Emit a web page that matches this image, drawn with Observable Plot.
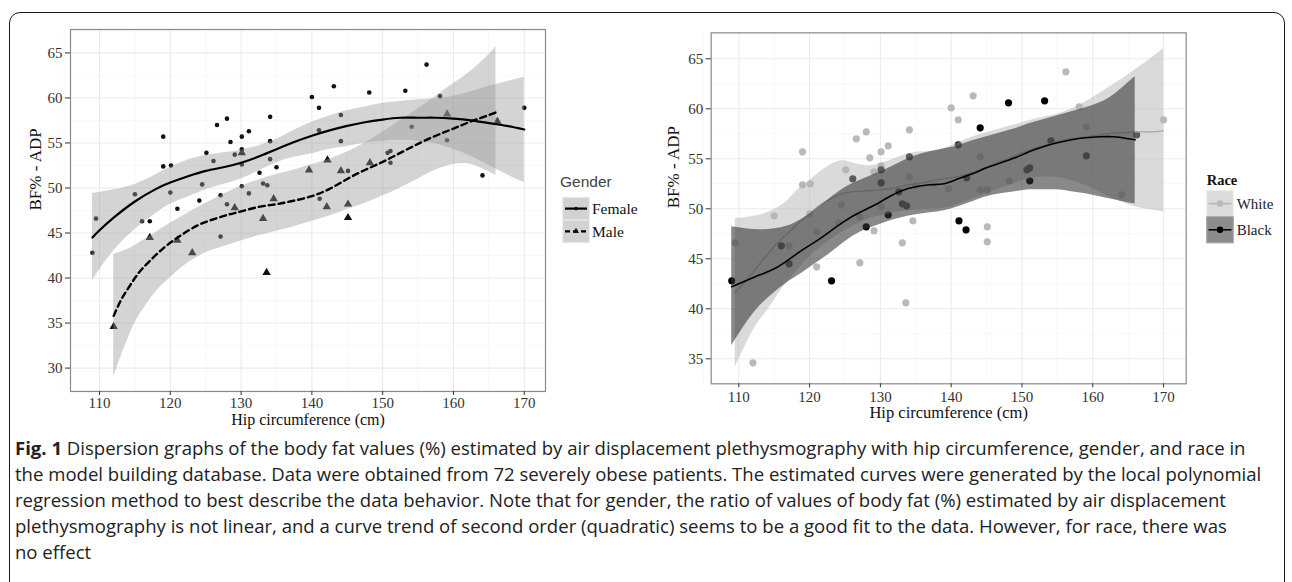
<!DOCTYPE html>
<html><head><meta charset="utf-8">
<script src="https://cdn.jsdelivr.net/npm/d3@7"></script>
<script src="https://cdn.jsdelivr.net/npm/@observablehq/plot@0.6"></script>
<style>
body{margin:0;background:#fff;width:1292px;height:582px;overflow:hidden;position:relative;}
#frame{position:absolute;left:9px;top:12px;width:1276px;height:640px;border:1.6px solid #1a1a1a;border-radius:11px;box-sizing:border-box;}
#p1{position:absolute;left:0;top:0;}
#p2{position:absolute;left:640px;top:0;}
#leg1{position:absolute;left:550px;top:165px;}
#leg2{position:absolute;left:1200px;top:165px;}
#cap{position:absolute;left:15px;top:435px;font-family:"Open Sans",sans-serif;font-size:16px;line-height:26px;color:#222;white-space:nowrap;}
#cap b{font-weight:700;}
</style></head><body>
<div id="frame"></div>
<div id="p1"></div>
<div id="p2"></div>
<div id="leg1"></div>
<div id="leg2"></div>
<div id="cap"></div>
<script>
// ---------- data: 71 patients ----------
const hip = [109.0,109.5,112.0,115.0,116.0,117.1,117.1,119.0,119.0,120.1,120.0,121.0,121.0,123.1,124.5,124.1,125.1,126.1,126.6,127.1,127.1,128.0,128.0,128.5,129.1,129.1,130.1,130.1,130.1,130.1,130.1,131.1,131.1,132.6,133.1,133.7,133.1,133.6,134.1,134.1,134.1,134.6,135.0,139.6,140.0,141.0,141.0,141.1,142.1,142.2,143.1,144.1,144.1,144.1,145.1,145.1,145.1,148.1,148.2,150.7,151.1,151.1,153.2,154.1,156.2,158.1,159.1,159.1,164.1,166.2,170.0];
const bf  = [42.8,46.6,34.6,49.3,46.3,46.3,44.5,55.7,52.4,52.5,49.5,47.7,44.2,42.8,50.4,48.6,53.9,53.0,57.0,44.6,49.2,57.7,48.2,55.1,53.7,47.8,55.7,54.3,53.9,52.6,50.2,56.3,49.4,51.7,50.5,50.3,46.6,40.6,55.2,57.9,53.2,48.8,52.3,52.0,60.1,58.9,56.4,48.8,47.9,53.1,61.3,58.1,55.2,51.9,51.9,48.2,46.7,60.6,52.8,53.9,54.1,52.8,60.8,56.8,63.7,60.2,58.2,55.3,51.4,57.4,58.9];
const gender = ["Female","Female","Male","Female","Female","Female","Male","Female","Female","Female","Female","Female","Male","Male","Female","Female","Female","Female","Female","Female","Female","Female","Female","Female","Female","Male","Female","Female","Male","Female","Female","Female","Female","Female","Female","Female","Male","Male","Female","Female","Female","Male","Female","Male","Female","Female","Female","Female","Male","Male","Female","Female","Female","Male","Female","Male","Male","Female","Male","Female","Female","Female","Female","Female","Female","Female","Male","Female","Female","Male","Female"];
const race = ["Black","White","White","White","Black","White","Black","White","White","White","White","White","White","Black","White","White","White","Black","White","White","White","White","Black","White","White","White","White","White","Black","Black","White","White","Black","Black","Black","Black","White","White","Black","White","White","White","White","White","White","White","Black","Black","Black","Black","White","Black","White","White","White","White","White","Black","White","Black","Black","Black","Black","Black","White","White","White","Black","White","Black","White"];

// ---------- loess curves ----------
const femaleX   = [109,110,112,115,118,120,122.5,125,127.5,130,132.5,135,137.5,140,142.5,145,147.5,150,152.5,155,157.5,160,162.5,165,167.5,170];
const femaleFit = [44.5,45.3,46.7,48.5,49.9,50.6,51.3,51.9,52.3,52.8,53.5,54.3,55.1,55.8,56.4,56.9,57.3,57.6,57.8,57.8,57.8,57.7,57.5,57.2,56.9,56.5];
const femaleHi  = [49.4,49.5,49.8,50.4,51.5,52.3,53.1,53.6,53.9,54.2,54.7,55.4,56.4,57.3,58.0,58.6,59.0,59.4,59.6,59.8,59.9,60.2,60.7,61.3,61.8,62.3];
const femaleLo  = [39.7,40.9,43.0,45.4,47.2,48.2,49.0,49.8,50.4,51.0,51.9,52.8,53.4,53.8,54.3,54.6,55.0,55.2,55.3,55.2,54.9,54.3,53.5,52.5,51.5,50.6];

const maleX   = [112,113,114,115,116,117.5,119,120.5,122,124,126,128,130,132.5,135,137.5,140,142.5,145,147.5,150,152.5,155,157.5,160,162.5,165,166];
const maleFit = [35.8,37.5,38.8,40.0,41.0,42.2,43.3,44.2,45.0,45.9,46.5,47.0,47.4,47.9,48.2,48.6,49.1,49.9,51.0,52.0,52.9,53.9,54.9,55.8,56.6,57.4,58.1,58.4];
const maleHi  = [42.6,42.9,43.2,43.6,44.1,44.8,45.6,46.3,47.0,47.9,48.7,49.5,50.2,50.9,51.5,52.0,52.6,53.2,54.0,55.0,56.2,57.5,58.8,60.2,61.6,63.0,64.8,65.7];
const maleLo  = [29.0,31.2,33.2,35.0,36.3,38.0,39.3,40.4,41.4,42.4,43.1,43.6,44.1,44.7,45.2,45.7,46.3,46.9,47.6,48.3,49.1,50.0,51.0,52.0,52.6,52.6,51.8,51.4];

const blackX   = [109,111,113,115,117,119,121,123,125,127,129,131,133,135,137,139,141,143,145,147,149,151,153,155,157,159,161,163,165,166];
const blackFit = [42.2,42.8,43.4,44.0,44.9,45.9,46.8,47.8,48.8,49.6,50.3,51.1,51.8,52.2,52.4,52.5,53.0,53.5,54.1,54.6,55.1,55.7,56.2,56.6,56.9,57.1,57.2,57.2,57.0,56.9];
const blackHi  = [48.2,48.0,47.9,48.0,48.3,49.0,50.0,51.1,52.1,52.8,53.4,54.0,54.7,55.3,55.7,56.0,56.3,56.8,57.2,57.6,58.0,58.5,58.9,59.3,59.7,60.1,60.6,61.4,62.6,63.2];
const blackLo  = [36.3,38.5,40.3,41.6,42.7,43.6,44.6,45.6,46.7,47.6,48.2,48.7,49.1,49.4,49.6,49.8,50.2,50.7,51.2,51.5,51.7,51.9,51.9,51.9,51.7,51.5,51.2,50.9,50.6,50.5];

const whiteX   = [109.5,111,112.5,114,115.5,117,118.5,120,121.5,123,124.5,126,128,130,132,134,136,138,140,142,144,146,148,150,152,154,156,158,160,162,164,166,168,170];
const whiteFit = [41.7,42.8,44.1,45.4,46.6,47.6,48.6,49.5,50.4,51.0,51.5,51.7,51.8,51.9,52.1,52.4,52.6,52.9,53.1,53.4,53.9,54.5,55.0,55.6,56.1,56.5,56.9,57.1,57.3,57.5,57.6,57.7,57.7,57.8];
const whiteHi  = [49.0,49.1,49.3,49.6,50.1,50.9,52.0,52.8,53.7,54.4,54.8,54.6,54.3,54.5,55.0,55.5,55.7,55.8,56.3,56.9,57.4,57.8,58.2,58.6,59.0,59.3,59.7,60.3,61.1,62.0,62.9,63.9,64.9,66.0];
const whiteLo  = [34.2,36.4,38.4,39.8,41.4,42.8,44.0,45.2,46.1,46.9,47.6,48.2,48.9,49.3,49.6,49.8,49.9,50.0,50.2,50.7,51.2,51.8,52.3,52.8,53.1,53.2,53.0,52.6,52.0,51.3,50.7,50.2,49.9,49.7];

// ---------- ticks / labels ----------
const xTicks = [110,120,130,140,150,160,170];
const xMinor = [105,115,125,135,145,155,165];
const yTicksLeft = [30,35,40,45,50,55,60,65];
const yMinorLeft = [27.5,32.5,37.5,42.5,47.5,52.5,57.5,62.5,67.5];
const yTicksRight = [35,40,45,50,55,60,65];
const yMinorRight = [32.5,37.5,42.5,47.5,52.5,57.5,62.5,67.5];
const xTitle = "Hip circumference (cm)";
const yTitle = "BF% - ADP";
const genderLevels = ["Female","Male"];
const raceLevels = ["White","Black"];

const pts = hip.map((h,i)=>({hip:h,bf:bf[i],gender:gender[i],race:race[i]}));
const band = (xs,fit,lo,hi)=>xs.map((x,i)=>({x,fit:fit[i],lo:lo[i],hi:hi[i]}));
const fem = band(femaleX,femaleFit,femaleLo,femaleHi);
const mal = band(maleX,maleFit,maleLo,maleHi);
const blk = band(blackX,blackFit,blackLo,blackHi);
const wht = band(whiteX,whiteFit,whiteLo,whiteHi);

const serif = "'Liberation Serif','Times New Roman',serif";
const gridMarks = (yMaj,yMin)=>[
  Plot.ruleX(xMinor,{stroke:"#f3f3f3",strokeWidth:0.7}),
  Plot.ruleY(yMin,{stroke:"#f3f3f3",strokeWidth:0.7}),
  Plot.ruleX(xTicks,{stroke:"#ebebeb",strokeWidth:1.1}),
  Plot.ruleY(yMaj,{stroke:"#ebebeb",strokeWidth:1.1})
];

const p1 = Plot.plot({
  width:660,height:440,marginLeft:70,marginRight:115,marginTop:29,marginBottom:49,
  x:{domain:[105.9,173]}, y:{domain:[27.4,67.6]},
  style:{fontFamily:serif,fontSize:"15px",color:"#333",background:"transparent"},
  marks:[
    ...gridMarks(yTicksLeft,yMinorLeft),
    Plot.dot(pts.filter(d=>d.gender==="Female"),{x:"hip",y:"bf",r:2.3,fill:"#111",symbol:"circle"}),
    Plot.dot(pts.filter(d=>d.gender==="Male"),{x:"hip",y:"bf",r:3.1,fill:"#111",symbol:"triangle"}),
    Plot.areaY(fem,{x:"x",y1:"lo",y2:"hi",fill:"#999",fillOpacity:0.42,curve:"natural"}),
    Plot.areaY(mal,{x:"x",y1:"lo",y2:"hi",fill:"#999",fillOpacity:0.42,curve:"natural"}),
    Plot.lineY(fem,{x:"x",y:"fit",stroke:"#000",strokeWidth:2.2,curve:"natural"}),
    Plot.lineY(mal,{x:"x",y:"fit",stroke:"#000",strokeWidth:2.4,strokeDasharray:"6,4",curve:"natural"}),
    Plot.frame({stroke:"#8a8a8a",strokeWidth:1.2}),
    Plot.axisX(xTicks,{tickSize:4,tickPadding:2,label:null,stroke:"#333",fill:"#333"}),
    Plot.axisY(yTicksLeft,{tickSize:5,tickPadding:3,label:null,stroke:"#333",fill:"#333"}),
    Plot.text([xTitle],{frameAnchor:"bottom",dy:33.5,fontSize:16,fill:"#111"}),
    Plot.text([yTitle],{frameAnchor:"left",dx:-35,rotate:-90,fontSize:17,fill:"#111"})
  ]
});
document.getElementById("p1").append(p1);

const p2 = Plot.plot({
  width:580,height:440,marginLeft:70.7,marginRight:34.3,marginTop:32.3,marginBottom:56.7,
  x:{domain:[106.1,173.2]}, y:{domain:[32.5,67.6]},
  style:{fontFamily:serif,fontSize:"15px",color:"#333",background:"transparent"},
  marks:[
    ...gridMarks(yTicksRight,yMinorRight),
    Plot.dot(pts,{x:"hip",y:"bf",r:3.6,fill:d=>d.race==="White"?"#b9b9b9":"#000"}),
    Plot.areaY(wht,{x:"x",y1:"lo",y2:"hi",fill:"#b5b5b5",fillOpacity:0.5,curve:"natural"}),
    Plot.lineY(wht,{x:"x",y:"fit",stroke:"#a8a8a8",strokeWidth:1.3,curve:"natural"}),
    Plot.areaY(blk,{x:"x",y1:"lo",y2:"hi",fill:"#333",fillOpacity:0.58,curve:"natural"}),
    Plot.lineY(blk,{x:"x",y:"fit",stroke:"#000",strokeWidth:1.6,curve:"natural"}),
    Plot.frame({stroke:"#8a8a8a",strokeWidth:1.2}),
    Plot.axisX(xTicks,{tickSize:4,tickPadding:4,label:null,stroke:"#333",fill:"#333"}),
    Plot.axisY(yTicksRight,{tickSize:5,tickPadding:3,label:null,stroke:"#333",fill:"#333"}),
    Plot.text([xTitle],{frameAnchor:"bottom",dy:34.5,fontSize:16.5,fill:"#111"}),
    Plot.text([yTitle],{frameAnchor:"left",dx:-37.5,rotate:-90,fontSize:17,fill:"#111"})
  ]
});
document.getElementById("p2").append(p2);

// ---------- legends ----------
{
  const s = d3.select("#leg1").append("svg").attr("width",100).attr("height",85);
  s.append("text").attr("x",10).attr("y",22).attr("font-family","'Liberation Sans',sans-serif").attr("font-size",15.5).attr("fill","#444").text("Gender");
  genderLevels.forEach((g,i)=>{
    const y0 = 32.3 + i*22.7;
    s.append("rect").attr("x",12.7).attr("y",y0).attr("width",26.6).attr("height",22.7).attr("fill","#d2d2d2").attr("stroke","#ececec").attr("stroke-width",1);
    const cy = y0+11.3;
    const ln = s.append("line").attr("x1",15).attr("x2",37).attr("y1",cy).attr("y2",cy).attr("stroke","#000").attr("stroke-width",2.2);
    if(g==="Male"){ ln.attr("stroke-dasharray","5,3"); s.append("path").attr("d",d3.symbol(d3.symbolTriangle,16)()).attr("transform",`translate(26,${cy})`).attr("fill","#111"); }
    else { s.append("circle").attr("cx",26).attr("cy",cy).attr("r",1.8).attr("fill","#111"); }
    s.append("text").attr("x",42).attr("y",cy).attr("dy","0.35em").attr("font-family",serif).attr("font-size",15.5).attr("fill","#111").text(g);
  });
}
{
  const s = d3.select("#leg2").append("svg").attr("width",92).attr("height",85);
  s.append("text").attr("x",6.7).attr("y",20).attr("font-family",serif).attr("font-weight","bold").attr("font-size",14.5).attr("fill","#111").text("Race");
  raceLevels.forEach((r,i)=>{
    const y0 = 25.5 + i*26.2;
    const white = r==="White";
    s.append("rect").attr("x",6.7).attr("y",y0).attr("width",26.6).attr("height",26.2).attr("fill",white?"#dcdcdc":"#8c8c8c").attr("stroke",white?"#eeeeee":"#a5a5a5").attr("stroke-width",1);
    const cy = y0+13.1;
    s.append("line").attr("x1",8.5).attr("x2",31.5).attr("y1",cy).attr("y2",cy).attr("stroke",white?"#b5b5b5":"#000").attr("stroke-width",1.5);
    s.append("circle").attr("cx",20).attr("cy",cy).attr("r",3.3).attr("fill",white?"#b9b9b9":"#000");
    s.append("text").attr("x",36.7).attr("y",cy).attr("dy","0.35em").attr("font-family",serif).attr("font-size",15).attr("fill","#222").text(r);
  });
}

// ---------- caption ----------
const captionLines = [
  "Dispersion graphs of the body fat values (%) estimated by air displacement plethysmography with hip circumference, gender, and race in",
  "the model building database. Data were obtained from 72 severely obese patients. The estimated curves were generated by the local polynomial",
  "regression method to best describe the data behavior. Note that for gender, the ratio of values of body fat (%) estimated by air displacement",
  "plethysmography is not linear, and a curve trend of second order (quadratic) seems to be a good fit to the data. However, for race, there was",
  "no effect"
];
const cap = document.getElementById("cap");
captionLines.forEach((t,i)=>{
  const div = document.createElement("div");
  if(i===0){ const b=document.createElement("b"); b.textContent="Fig. 1"; div.append(b, " "+t); }
  else div.textContent = t;
  cap.append(div);
});
// fit caption width to the figure's text block
const l2 = cap.children[1];
const span = document.createElement("span"); span.textContent = l2.textContent; l2.textContent=""; l2.append(span);
const w = span.getBoundingClientRect().width;
if(w>0){ cap.style.fontSize = (16*1247/w).toFixed(2)+"px"; }
</script>
</body></html>
